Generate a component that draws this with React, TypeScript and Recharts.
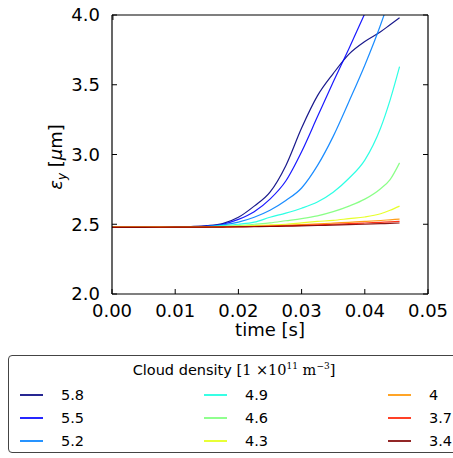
import { LineChart, Line, XAxis, YAxis } from 'recharts'

// sample times [s]
const times = [0, 0.005, 0.01, 0.0125, 0.015, 0.0175, 0.02, 0.0225, 0.025, 0.0275, 0.03, 0.0325, 0.035, 0.0375, 0.04, 0.0425, 0.044, 0.0455]

// vertical emittance [um], one list per cloud density
const eps58 = [2.48, 2.48, 2.481, 2.484, 2.49, 2.505, 2.55, 2.63, 2.73, 2.92, 3.19, 3.42, 3.58, 3.72, 3.81, 3.88, 3.93, 3.98]
const eps55 = [2.48, 2.48, 2.481, 2.483, 2.487, 2.5, 2.535, 2.59, 2.68, 2.81, 3.02, 3.27, 3.52, 3.76, 4.01, 4.25, 4.37, 4.5]
const eps52 = [2.48, 2.48, 2.481, 2.482, 2.485, 2.495, 2.515, 2.55, 2.6, 2.67, 2.76, 2.92, 3.13, 3.38, 3.64, 3.93, 4.13, 4.36]
const eps49 = [2.48, 2.48, 2.48, 2.481, 2.483, 2.49, 2.5, 2.515, 2.55, 2.58, 2.615, 2.66, 2.73, 2.83, 2.96, 3.19, 3.39, 3.63]
const eps46 = [2.48, 2.48, 2.48, 2.481, 2.482, 2.485, 2.49, 2.5, 2.51, 2.525, 2.54, 2.56, 2.59, 2.63, 2.68, 2.755, 2.82, 2.94]
const eps43 = [2.48, 2.48, 2.48, 2.48, 2.481, 2.483, 2.486, 2.49, 2.495, 2.5, 2.51, 2.52, 2.528, 2.54, 2.552, 2.575, 2.6, 2.63]
const eps40 = [2.48, 2.48, 2.48, 2.48, 2.48, 2.481, 2.483, 2.485, 2.488, 2.492, 2.497, 2.502, 2.508, 2.514, 2.52, 2.527, 2.532, 2.537]
const eps37 = [2.48, 2.48, 2.48, 2.48, 2.48, 2.481, 2.482, 2.484, 2.486, 2.489, 2.492, 2.496, 2.5, 2.504, 2.509, 2.514, 2.517, 2.52]
const eps34 = [2.478, 2.478, 2.479, 2.479, 2.48, 2.48, 2.481, 2.482, 2.484, 2.486, 2.488, 2.491, 2.494, 2.497, 2.5, 2.504, 2.506, 2.509]

const densities = ['5.8', '5.5', '5.2', '4.9', '4.6', '4.3', '4', '3.7', '3.4']
const jetColors = ['#00007f', '#0000ff', '#0080ff', '#15ffe1', '#7dff7a', '#e4ff13', '#ff9400', '#ff1e00', '#7f0000']
const curves = [eps58, eps55, eps52, eps49, eps46, eps43, eps40, eps37, eps34]

const xTicks = [0, 0.01, 0.02, 0.03, 0.04, 0.05]
const yTicks = [2.0, 2.5, 3.0, 3.5, 4.0]

const data = times.map((t, i) => {
  const row: Record<string, number> = { t }
  curves.forEach((c, k) => {
    row[`s${k}`] = c[i]
  })
  return row
})

// bottom ticks point into the plot, labels sit below the frame
const BottomTick = (props: any) => {
  const { x, y, payload } = props
  return (
    <g>
      <line x1={x} x2={x} y1={y} y2={y - 5} stroke="#000" strokeWidth={1} />
      <text x={x} y={y + 23} textAnchor="middle" fontSize={18} fill="#000">
        {Number(payload.value).toFixed(2)}
      </text>
    </g>
  )
}

const LeftTick = (props: any) => {
  const { x, y, payload } = props
  return (
    <g>
      <line x1={x} x2={x + 5} y1={y} y2={y} stroke="#000" strokeWidth={1} />
      <text x={x - 12} y={y} dy="0.36em" textAnchor="end" fontSize={18} fill="#000">
        {Number(payload.value).toFixed(1)}
      </text>
    </g>
  )
}

const NoLabel = () => <g />

export default function App() {
  return (
    <div
      style={{
        position: 'absolute',
        left: 0,
        top: 0,
        width: 453,
        height: 458,
        overflow: 'hidden',
        background: '#fff',
        fontFamily: '"DejaVu Sans", sans-serif',
      }}
    >
      <LineChart width={453} height={458} data={data} margin={{ top: 15, right: 25, bottom: 124, left: 52 }}>
        <XAxis
          xAxisId="x"
          dataKey="t"
          type="number"
          domain={[0, 0.05]}
          ticks={xTicks}
          allowDataOverflow
          height={40}
          tickSize={0}
          tickMargin={0}
          tickLine={false}
          tick={BottomTick}
          axisLine={{ stroke: '#000', strokeWidth: 1.2 }}
        />
        <XAxis
          xAxisId="xt"
          orientation="top"
          mirror
          type="number"
          domain={[0, 0.05]}
          ticks={xTicks}
          allowDataOverflow
          tickSize={5}
          tick={NoLabel}
          tickLine={{ stroke: '#000' }}
          axisLine={{ stroke: '#000', strokeWidth: 1.2 }}
        />
        <YAxis
          yAxisId="y"
          type="number"
          domain={[2, 4]}
          ticks={yTicks}
          allowDataOverflow
          width={60}
          tickSize={0}
          tickMargin={0}
          tickLine={false}
          tick={LeftTick}
          axisLine={{ stroke: '#000', strokeWidth: 1.2 }}
        />
        <YAxis
          yAxisId="yr"
          orientation="right"
          mirror
          type="number"
          domain={[2, 4]}
          ticks={yTicks}
          allowDataOverflow
          tickSize={5}
          tick={NoLabel}
          tickLine={{ stroke: '#000' }}
          axisLine={{ stroke: '#000', strokeWidth: 1.2 }}
        />
        {curves.map((_, k) => (
          <Line
            key={k}
            xAxisId="x"
            yAxisId="y"
            type="monotone"
            dataKey={`s${k}`}
            stroke={jetColors[k]}
            strokeWidth={1.2}
            strokeOpacity={0.9}
            dot={false}
            isAnimationActive={false}
          />
        ))}
      </LineChart>

      {/* axis titles */}
      <div
        style={{
          position: 'absolute',
          left: 170,
          width: 200,
          top: 322,
          lineHeight: '16px',
          textAlign: 'center',
          fontSize: 18,
        }}
      >
        time [s]
      </div>
      <div
        style={{
          position: 'absolute',
          left: 57,
          top: 157,
          transform: 'translate(-50%, -50%) rotate(-90deg)',
          whiteSpace: 'nowrap',
          fontSize: 18,
        }}
      >
        <i>ε</i>
        <sub style={{ fontSize: 12 }}><i>y</i></sub>
        {' '}[<i>μ</i>m]
      </div>

      {/* legend */}
      <div
        style={{
          position: 'absolute',
          left: 8,
          top: 355,
          width: 455,
          height: 96,
          border: '1px solid #444',
          borderRadius: 4,
          fontSize: 14.5,
        }}
      >
        <div style={{ position: 'absolute', left: 0, width: 450, top: 5, textAlign: 'center', whiteSpace: 'nowrap' }}>
          Cloud density{' '}
          <span style={{ fontFamily: '"DejaVu Serif", serif' }}>
            [1 ×10<sup style={{ fontSize: 9 }}>11</sup> m<sup style={{ fontSize: 9 }}>−3</sup>]
          </span>
        </div>
        {densities.map((d, i) => {
          const col = Math.floor(i / 3)
          const row = i % 3
          const left = 11 + col * 184
          const cy = 39 + row * 23
          return (
            <div key={d}>
              <div
                style={{
                  position: 'absolute',
                  left,
                  top: cy - 1,
                  width: 23,
                  height: 1.5,
                  background: jetColors[i],
                  opacity: 0.85,
                }}
              />
              <div style={{ position: 'absolute', left: left + 41, top: cy - 9, lineHeight: '18px' }}>{d}</div>
            </div>
          )
        })}
      </div>
    </div>
  )
}
